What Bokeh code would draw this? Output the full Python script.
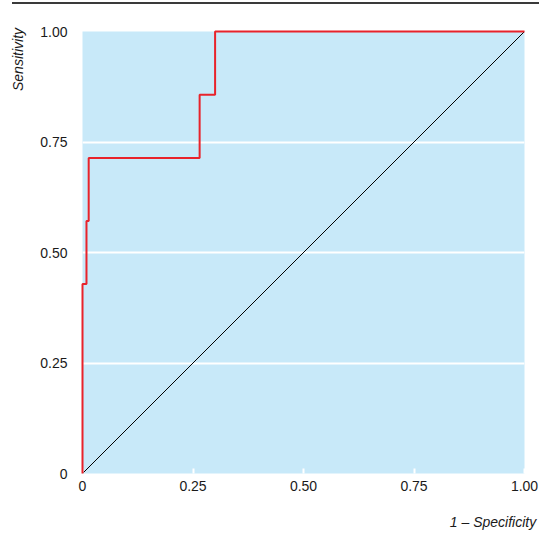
from bokeh.plotting import figure
from bokeh.layouts import column
from bokeh.models import FixedTicker, Range1d, Div
from bokeh.embed import file_html
from bokeh.resources import INLINE

# ROC curve (1 - specificity, sensitivity)
fpr = [0.0, 0.0, 0.009, 0.009, 0.014, 0.014, 0.265, 0.265, 0.30, 0.30, 1.0]
tpr = [0.0, 0.429, 0.429, 0.571, 0.571, 0.714, 0.714, 0.857, 0.857, 1.0, 1.0]
# reference (chance) line
ref_x = [0.0, 1.0]
ref_y = [0.0, 1.0]
tick_vals = [0, 0.25, 0.5, 0.75, 1.0]
tick_labels = ["0", "0.25", "0.50", "0.75", "1.00"]
x_title = "1 \u2013 Specificity"
y_title = "Sensitivity"

FONT = "Liberation Sans"

rule = Div(text="", width=527, height=2, margin=(2, 0, 0, 12),
           styles={"background-color": "#3a3a3a"})

p = figure(width=539, height=529, toolbar_location=None, output_backend="svg",
           x_range=Range1d(0, 1), y_range=Range1d(0, 1),
           min_border_left=82, min_border_right=15, min_border_top=27, min_border_bottom=60,
           background_fill_color="#c8e9f9", border_fill_color="white",
           outline_line_color=None)

overrides = {v: t for v, t in zip(tick_vals, tick_labels)}

for ax in (p.xaxis[0], p.yaxis[0]):
    ax.ticker = FixedTicker(ticks=tick_vals)
    ax.major_label_overrides = overrides
    ax.axis_line_color = None
    ax.minor_tick_line_color = None
    ax.major_label_text_font = FONT
    ax.major_label_text_font_size = "14px"
    ax.major_label_text_color = "#1a1a1a"
    ax.axis_label_align = "end"
    ax.axis_label_text_font = FONT
    ax.axis_label_text_font_style = "italic"
    ax.axis_label_text_font_size = "14px"
    ax.axis_label_text_color = "#1a1a1a"

# trailing wide spaces shift the centred, end-anchored titles into place
p.yaxis.major_tick_line_color = None
p.yaxis.major_label_standoff = 9
p.yaxis.axis_label = y_title + "\u2003" * 4
p.yaxis.axis_label_standoff = 11

p.xaxis.major_tick_in = 5
p.xaxis.major_tick_out = 0
p.xaxis.major_tick_line_color = "white"
p.xaxis.major_tick_line_width = 2
p.xaxis.major_label_standoff = 7
p.xaxis.axis_label = x_title + "\u2002" * 9
p.xaxis.axis_label_standoff = 20

p.xgrid.visible = False
p.ygrid.ticker = FixedTicker(ticks=tick_vals)
p.ygrid.grid_line_color = "white"
p.ygrid.grid_line_width = 2

p.line(ref_x, ref_y, line_color="black", line_width=1)
p.line(fpr, tpr, line_color="#e8232b", line_width=2, level="overlay")

layout = column(rule, p, spacing=0)
open("out.html", "w").write(file_html(layout, INLINE))
